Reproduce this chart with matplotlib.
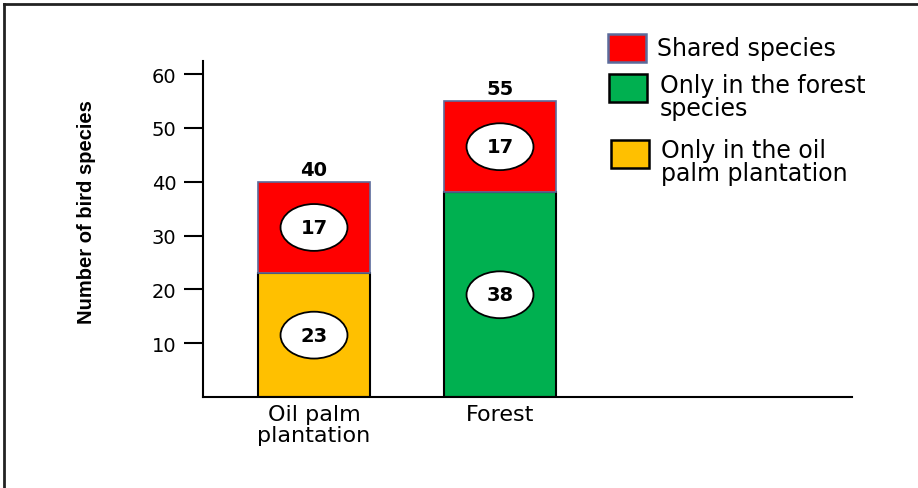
import matplotlib
matplotlib.use('Agg')
import matplotlib.pyplot as plt
from matplotlib.patches import Ellipse, Rectangle
from matplotlib.lines import Line2D

plt.rcParams['font.family'] = ['DejaVu Sans']

# data
habitats = ['Oil palm\nplantation', 'Forest']
only_here = [23, 38]       # only in oil palm / only in forest
shared = [17, 17]          # shared species
only_colors = ['#ffc000', '#00b050']
shared_color = '#ff0000'
shared_edge = '#5b6b9b'
yticks = [10, 20, 30, 40, 50, 60]

legend_labels = ['Shared species', 'Only in the forest\nspecies', 'Only in the oil\npalm plantation']
legend_colors = ['#ff0000', '#00b050', '#ffc000']
legend_edges = ['#5b6b9b', 'black', 'black']

fig = plt.figure(figsize=(9.18, 4.89), dpi=100)
ax = fig.add_axes([0.2211, 0.186, 0.928 - 0.2211, 0.873 - 0.186])

x = list(range(len(habitats)))
w = 0.60
ax.bar(x, only_here, width=w, color=only_colors, edgecolor='black', linewidth=1.5, zorder=2)
ax.bar(x, shared, width=w, bottom=only_here, color=shared_color, edgecolor=shared_edge,
       linewidth=1.2, zorder=2)

# ellipse labels inside segments
for xi, lo, sh in zip(x, only_here, shared):
    for val, base in ((lo, 0), (sh, lo)):
        cy = base + val / 2
        ax.add_patch(Ellipse((xi, cy), 0.36, 8.7, facecolor='white', edgecolor='black',
                             linewidth=1.3, zorder=3))
        ax.text(xi, cy, str(val), ha='center', va='center', fontsize=14,
                fontweight='bold', zorder=4)
    total = lo + sh
    ax.annotate(str(total), (xi, total), xytext=(0, 2), textcoords='offset points',
                ha='center', va='bottom', fontsize=14, fontweight='bold')

ax.set_xlim(-0.597, 2.892)
ax.set_ylim(0, 62.4)
ax.set_yticks(yticks)
ax.set_xticks(x)
ax.set_xticklabels(habitats, fontsize=16, linespacing=1.05)
ax.tick_params(axis='x', length=0, pad=5)
ax.tick_params(axis='y', length=14, width=1.5, labelsize=14, pad=5)
for s in ['top', 'right']:
    ax.spines[s].set_visible(False)
for s in ['left', 'bottom']:
    ax.spines[s].set_linewidth(1.5)

fig.text(86 / 918, 1 - 212 / 489, 'Number of bird species', rotation=90, ha='center', va='center',
         fontsize=14.5, fontweight='bold', family=['Liberation Sans Narrow', 'Liberation Sans'])

# legend drawn by hand
W, H = 918, 489
patch_boxes = [(608, 35), (609, 75), (611, 141)]
text_pos = [(657, 37), (660, 74), (661, 139)]
for (px, py), (tx, ty), lab, c, ec in zip(patch_boxes, text_pos, legend_labels, legend_colors, legend_edges):
    fig.patches.append(Rectangle((px / W, 1 - (py + 28) / H), 38 / W, 28 / H,
                                 transform=fig.transFigure, facecolor=c, edgecolor=ec,
                                 linewidth=1.8))
    fig.text(tx / W, 1 - ty / H, lab, ha='left', va='top', fontsize=17, linespacing=0.95)

# frame (top and left only, image is cropped)
fig.add_artist(Line2D([4 / W, 1.0], [1 - 5 / H, 1 - 5 / H], color='#222222', linewidth=2))
fig.add_artist(Line2D([4 / W, 4 / W], [0, 1 - 5 / H], color='#222222', linewidth=2))

fig.savefig('out.png', dpi=100)
